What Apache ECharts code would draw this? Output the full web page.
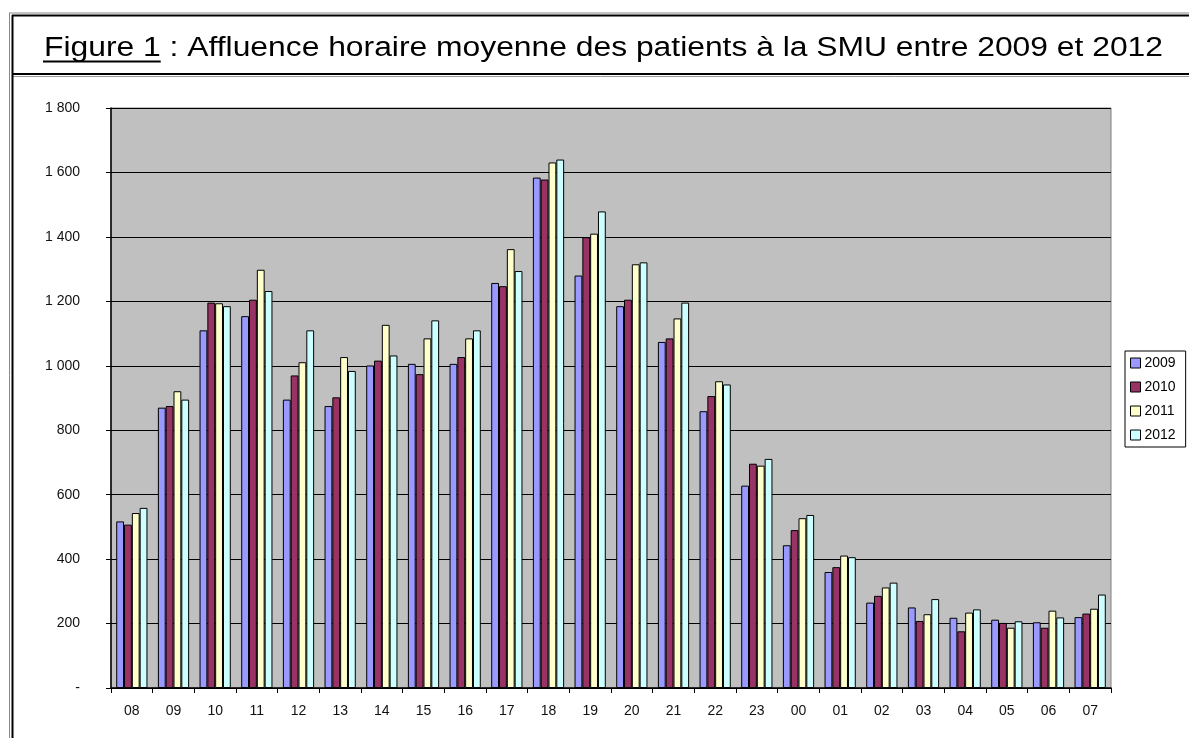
<!DOCTYPE html>
<html>
<head>
    <meta charset="utf-8">
    <title>Affluence horaire</title>
    <script src="https://cdn.jsdelivr.net/npm/echarts@6/dist/echarts.min.js"></script>
    <style>
        html, body { margin: 0; padding: 0; background: #fff; }
        #chart { width: 1189px; height: 738px; }
    </style>
</head>
<body>
    <div id="chart"></div>
    <script type="text/javascript">

        // heures de 08 h à 07 h le lendemain
        var hours = ['08', '09', '10', '11', '12', '13', '14', '15', '16', '17', '18', '19',
                     '20', '21', '22', '23', '00', '01', '02', '03', '04', '05', '06', '07'];

        var years = ['2009', '2010', '2011', '2012'];

        var v2009 = [517, 870, 1110, 1154, 895, 875, 1001, 1006, 1006, 1257, 1584, 1280,
                     1185, 1074, 859, 628, 443, 360, 265, 250, 218, 212, 204, 220];
        var v2010 = [507, 875, 1196, 1205, 970, 902, 1016, 974, 1027, 1247, 1578, 1399,
                     1205, 1085, 906, 696, 490, 375, 286, 208, 176, 202, 187, 231];
        var v2011 = [543, 921, 1194, 1298, 1011, 1027, 1127, 1085, 1085, 1362, 1631, 1410,
                     1315, 1147, 952, 690, 527, 411, 312, 229, 234, 187, 240, 246];
        var v2012 = [559, 895, 1185, 1232, 1110, 984, 1032, 1141, 1110, 1294, 1640, 1479,
                     1321, 1196, 942, 711, 537, 406, 327, 276, 244, 207, 219, 290];

        var colors = ['#9999FF', '#993366', '#FFFFCC', '#CCFFFF'];

        var titlePrefix = 'Figure 1';
        var titleRest = ' : Affluence horaire moyenne des patients à la SMU entre 2009 et 2012';

        var fontFamily = 'Arial, "Liberation Sans", sans-serif';
        var titleSize = 27;
        var titleLeft = 44, titleRight = 1163;

        // le titre de l'original est un peu étiré en largeur
        var cv = document.createElement('canvas').getContext('2d');
        cv.font = titleSize + 'px ' + fontFamily;
        var fullWidth = cv.measureText(titlePrefix + titleRest).width;
        var titleScale = (titleRight - titleLeft) / fullWidth;
        var prefixWidth = cv.measureText(titlePrefix).width * titleScale;

        var myChart = echarts.init(document.getElementById('chart'));

        function fmtNum(v) {
            if (v === 0) return '-';
            return String(v).replace(/\B(?=(\d{3})+(?!\d))/g, ' ');
        }

        var allData = [v2009, v2010, v2011, v2012];
        var series = years.map(function (y, i) {
            return {
                name: y,
                type: 'bar',
                data: allData[i],
                barGap: '0%',
                barCategoryGap: '25%',
                itemStyle: { color: colors[i], borderColor: '#000', borderWidth: 1 },
                emphasis: { disabled: true }
            };
        });

        var option = {
            animation: false,
            color: colors,
            textStyle: { fontFamily: fontFamily },
            grid: {
                left: 111, right: 78, top: 108, bottom: 50,
                show: true,
                backgroundColor: '#C0C0C0',
                borderColor: '#808080',
                borderWidth: 1
            },
            legend: {
                orient: 'vertical',
                left: 1125,
                top: 351,
                data: years,
                backgroundColor: '#fff',
                borderColor: '#000',
                borderWidth: 1,
                padding: [5, 10, 5, 5],
                itemWidth: 10,
                itemHeight: 10,
                itemGap: 10,
                icon: 'rect',
                itemStyle: { borderColor: '#000', borderWidth: 1 },
                textStyle: { fontSize: 14, color: '#000', padding: [0, 0, 0, -1] }
            },
            xAxis: {
                type: 'category',
                data: hours,
                axisLine: { lineStyle: { color: '#000', width: 1.5 } },
                axisTick: { show: true, length: 5, lineStyle: { color: '#000' } },
                axisLabel: { fontSize: 14, color: '#111', margin: 16 }
            },
            yAxis: {
                type: 'value',
                min: 0,
                max: 1800,
                interval: 200,
                axisLine: { show: true, lineStyle: { color: '#000', width: 1.5 } },
                axisTick: { show: true, length: 5, lineStyle: { color: '#000' } },
                axisLabel: { fontSize: 14, color: '#111', margin: 31, formatter: fmtNum },
                splitLine: { lineStyle: { color: '#000', width: 1 } }
            },
            graphic: [
                // cadre (double trait gris / noir)
                { type: 'line', shape: { x1: 9, y1: 13, x2: 1189, y2: 13 }, style: { stroke: '#888', lineWidth: 1 } },
                { type: 'line', shape: { x1: 12, y1: 15.5, x2: 1189, y2: 15.5 }, style: { stroke: '#000', lineWidth: 2 } },
                { type: 'line', shape: { x1: 12, y1: 74, x2: 1189, y2: 74 }, style: { stroke: '#000', lineWidth: 2 } },
                { type: 'line', shape: { x1: 12, y1: 76.5, x2: 1189, y2: 76.5 }, style: { stroke: '#999', lineWidth: 1 } },
                { type: 'line', shape: { x1: 9.5, y1: 13, x2: 9.5, y2: 738 }, style: { stroke: '#888', lineWidth: 1 } },
                { type: 'line', shape: { x1: 12.5, y1: 15, x2: 12.5, y2: 738 }, style: { stroke: '#000', lineWidth: 2 } },
                // titre
                {
                    type: 'text', x: titleLeft, y: 48.5, scaleX: titleScale,
                    style: {
                        text: titlePrefix + titleRest,
                        font: titleSize + 'px ' + fontFamily,
                        fill: '#000',
                        verticalAlign: 'middle'
                    }
                },
                { type: 'line', shape: { x1: titleLeft - 1, y1: 61.5, x2: titleLeft + prefixWidth, y2: 61.5 }, style: { stroke: '#000', lineWidth: 2 } }
            ],
            series: series
        };

        myChart.setOption(option);

    </script>
</body>
</html>
